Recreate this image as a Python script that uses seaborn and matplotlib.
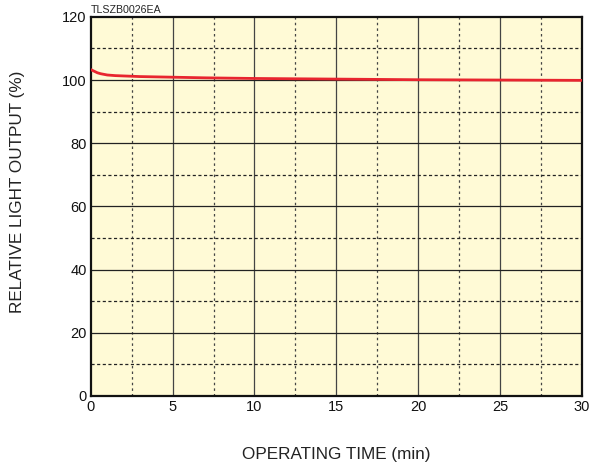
import matplotlib
matplotlib.use("Agg")
import matplotlib.pyplot as plt
import seaborn as sns
import pandas as pd

# data
time_min = [0, 0.2, 0.4, 0.6, 0.8, 1.0, 1.5, 2, 3, 4, 5, 7, 10, 15, 20, 25, 30]
light_output = [103.3, 102.8, 102.3, 102.0, 101.8, 101.6, 101.4, 101.3, 101.1, 101.0, 100.9, 100.7, 100.5, 100.3, 100.1, 100.0, 99.9]
x_ticks = [0, 5, 10, 15, 20, 25, 30]
y_ticks = [0, 20, 40, 60, 80, 100, 120]

df = pd.DataFrame({"time": time_min, "output": light_output})

sns.set_theme(style="white")
plt.rcParams['font.family'] = ['Liberation Sans', 'DejaVu Sans']

fig = plt.figure(figsize=(5.9, 4.69), dpi=100)
ax = fig.add_axes([0.154, 0.156, 0.832, 0.808])
ax.set_facecolor("#fffad6")

# grid: solid major, dotted minor
for x in x_ticks[1:-1]:
    ax.axvline(x, color="#444444", lw=0.9, zorder=1)
for x in [2.5, 7.5, 12.5, 17.5, 22.5, 27.5]:
    ax.axvline(x, color="#444444", lw=0.9, ls=(0, (2, 2.5)), zorder=1)
for y in y_ticks[1:-1]:
    ax.axhline(y, color="#222222", lw=0.9, zorder=1)
for y in [10, 30, 50, 70, 90, 110]:
    ax.axhline(y, color="#222222", lw=0.9, ls=(0, (2.5, 2)), zorder=1)

sns.lineplot(data=df, x="time", y="output", color="#e8252f", lw=2, ax=ax, zorder=3)

ax.set_xlim(0, 30)
ax.set_ylim(0, 120)
ax.set_xticks(x_ticks)
ax.set_yticks(y_ticks)
ax.tick_params(length=0, labelsize=10.5, pad=3, colors="#111111")
for s in ax.spines.values():
    s.set_color("#111111")
    s.set_linewidth(1.6)

ax.set_xlabel("OPERATING TIME (min)", fontsize=12.3, color="#222222")
ax.set_ylabel("RELATIVE LIGHT OUTPUT (%)", fontsize=12.3, color="#222222")
ax.xaxis.set_label_coords(0.5, -0.135)
ax.yaxis.set_label_coords(-0.135, 0.538)
ax.text(0, 1.006, "TLSZB0026EA", transform=ax.transAxes, fontsize=7.7, va="bottom", ha="left")

fig.savefig("out.png", dpi=100)
